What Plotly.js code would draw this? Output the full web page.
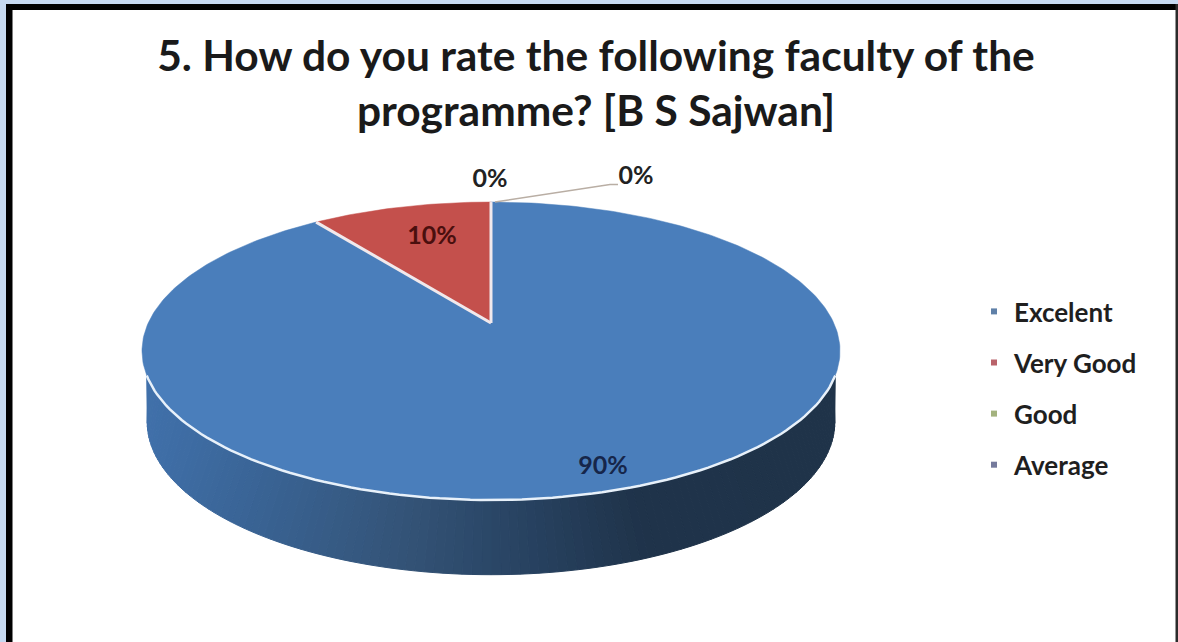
<!DOCTYPE html>
<html>
<head>
<meta charset="utf-8">
<script src="https://cdn.plot.ly/plotly-3.0.1.min.js"></script>
<style>html,body{margin:0;padding:0;background:#c6d9f1;overflow:hidden}#chart{width:1178px;height:642px}</style>
</head>
<body>
<div id="chart"></div>
<script>
const categories = ["Excelent", "Very Good", "Good", "Average"];
const percentValues = [90, 10, 0, 0];
const sliceColors = ["#4a7ebb", "#c4504c", "#9bbb59", "#8064a2"];
const legendColors = ["#5f80a8", "#b9636a", "#a3b27e", "#757a9c"];
const titleText = "5. How do you rate the following faculty of the<br>programme? [B S Sajwan]";
const labelFont = "Lato, Carlito, 'Open Sans', sans-serif";

// Drawing geometry: a tilted disc, viewed in perspective
const apex = {x: 491, y: 323};
const persp = {a: 342.8, b: 143.7, k: 0.188};
const wall = {sx: 0.985, sy: 1.025, dz: 70.3, topFrom: 110, topTo: 250, botFrom: 100, botTo: 260, strips: 120};
const wallStops = [[147, [64, 112, 170]], [260, [57, 99, 148]], [400, [52, 84, 120]], [520, [40, 67, 98]], [640, [31, 51, 74]], [840, [31, 51, 73]]];
const labelPos = [[603, 468], [432, 238], [490, 181], [636, 178]];
const leaderX = [495, 610, 618], leaderY = [202, 184.5, 184.5];

function project(deg, sx = 1, sy = 1, dz = 0) {
  const t = deg * Math.PI / 180, u = Math.sin(t), v = Math.cos(t), d = 1 + persp.k * v;
  return [apex.x + sx * persp.a * u / d, apex.y - sy * persp.b * v / d + dz];
}
function arc(from, to, n, sx, sy, dz) {
  const out = [];
  for (let i = 0; i <= n; i++) out.push(project(from + (to - from) * i / n, sx, sy, dz));
  return out;
}
function wallColor(x) {
  for (let i = 1; i < wallStops.length; i++) {
    if (x <= wallStops[i][0]) {
      const [x0, c0] = wallStops[i - 1], [x1, c1] = wallStops[i], f = Math.max(0, (x - x0) / (x1 - x0));
      return "rgb(" + c0.map((c, j) => Math.round(c + (c1[j] - c) * f)).join(",") + ")";
    }
  }
  return "rgb(31,51,73)";
}

const traces = [];
// Side wall belongs to the first slice
for (let i = 0; i < wall.strips; i++) {
  const f0 = i / wall.strips, f1 = (i + 1) / wall.strips;
  const top0 = project(wall.topFrom + (wall.topTo - wall.topFrom) * f0);
  const top1 = project(wall.topFrom + (wall.topTo - wall.topFrom) * f1);
  const bot0 = project(wall.botFrom + (wall.botTo - wall.botFrom) * f0, wall.sx, wall.sy, wall.dz);
  const bot1 = project(wall.botFrom + (wall.botTo - wall.botFrom) * f1, wall.sx, wall.sy, wall.dz);
  const col = wallColor((top0[0] + top1[0]) / 2 * 0.5 + (bot0[0] + bot1[0]) / 2 * 0.5);
  traces.push({type: "scatter", mode: "lines", fill: "toself", fillcolor: col, line: {color: col, width: 1},
    x: [top0[0], top1[0], bot1[0], bot0[0], top0[0]], y: [top0[1], top1[1], bot1[1], bot0[1], top0[1]],
    hoverinfo: "skip", showlegend: false});
}
// Top faces of the slices, from the values
const total = percentValues.reduce((a, b) => a + b, 0);
let start = 0;
const edges = [];
percentValues.forEach((v, i) => {
  const sweep = v / total * 360;
  if (sweep > 0) {
    const pts = [[apex.x, apex.y], ...arc(start, start + sweep, Math.ceil(sweep), 1, 1, 0), [apex.x, apex.y]];
    traces.push({type: "scatter", mode: "lines", fill: "toself", fillcolor: sliceColors[i], line: {color: sliceColors[i], width: 0.5},
      x: pts.map(p => p[0]), y: pts.map(p => p[1]), name: categories[i], hoverinfo: "name+text", text: v + "%", showlegend: false});
    edges.push(start);
  }
  start += sweep;
});
// White slice separators
edges.forEach(deg => {
  const p = project(deg);
  traces.push({type: "scatter", mode: "lines", line: {color: "#f1e9ec", width: 3}, x: [apex.x, p[0]], y: [apex.y, p[1]], hoverinfo: "skip", showlegend: false});
});
// White front rim
const rim = arc(wall.topFrom, wall.topTo, 100, 1, 1, 0);
traces.push({type: "scatter", mode: "lines", line: {color: "#e8f1fa", width: 2.5}, x: rim.map(p => p[0]), y: rim.map(p => p[1]), hoverinfo: "skip", showlegend: false});
// Leader line for the last zero slice
traces.push({type: "scatter", mode: "lines", line: {color: "#b9aea4", width: 1.5}, x: leaderX, y: leaderY, hoverinfo: "skip", showlegend: false});
// Value labels
const labelColors = ["#16264a", "#4a0f0e", "#222222", "#222222"];
percentValues.forEach((v, i) => {
  traces.push({type: "scatter", mode: "text", x: [labelPos[i][0]], y: [labelPos[i][1]], text: [v + "%"], textposition: "middle center",
    textfont: {family: labelFont, size: 25, color: labelColors[i], weight: 700}, hoverinfo: "skip", showlegend: false});
});
// Legend entries
categories.forEach((c, i) => {
  traces.push({type: "scatter", mode: "markers", name: c, legendgroup: c, x: [null], y: [null],
    marker: {symbol: "square", size: 6, color: legendColors[i]}, hoverinfo: "skip", showlegend: true});
});

const layout = {
  width: 1178, height: 642,
  margin: {l: 0, r: 0, t: 0, b: 0, pad: 0},
  paper_bgcolor: "#c6d9f1", plot_bgcolor: "rgba(0,0,0,0)",
  xaxis: {range: [0, 1178], visible: false, fixedrange: true},
  yaxis: {range: [642, 0], visible: false, fixedrange: true},
  title: {text: titleText, x: 596 / 1178, xanchor: "center", xref: "paper", y: 1 - 70.5 / 642, yanchor: "top", yref: "container",
    font: {family: labelFont, size: 42.5, color: "#1a1a1a", weight: 700}},
  legend: {x: 974 / 1178, xanchor: "left", y: 1 - 288 / 642, yanchor: "top", bgcolor: "rgba(0,0,0,0)", borderwidth: 0,
    traceorder: "grouped", tracegroupgap: 14.3, itemwidth: 30, itemclick: false, itemdoubleclick: false,
    font: {family: labelFont, size: 26, color: "#1f1f1f", weight: 700}},
  shapes: [
    {type: "rect", xref: "x", yref: "y", x0: 9.5, x1: 1177, y0: 7, y1: 660, fillcolor: "#ffffff", line: {color: "#000000", width: 0}, layer: "below"},
    {type: "rect", xref: "x", yref: "y", x0: 6, x1: 1178, y0: 4, y1: 10, fillcolor: "#000000", line: {width: 0}, layer: "below"},
    {type: "rect", xref: "x", yref: "y", x0: 6, x1: 12.5, y0: 4, y1: 642, fillcolor: "#000000", line: {width: 0}, layer: "below"},
    {type: "rect", xref: "x", yref: "y", x0: 1175.5, x1: 1178, y0: 4, y1: 642, fillcolor: "#2b2b2b", line: {width: 0}, layer: "below"}
  ],
  showlegend: true
};
Plotly.newPlot("chart", traces, layout, {displayModeBar: false, responsive: false});
</script>
</body>
</html>
